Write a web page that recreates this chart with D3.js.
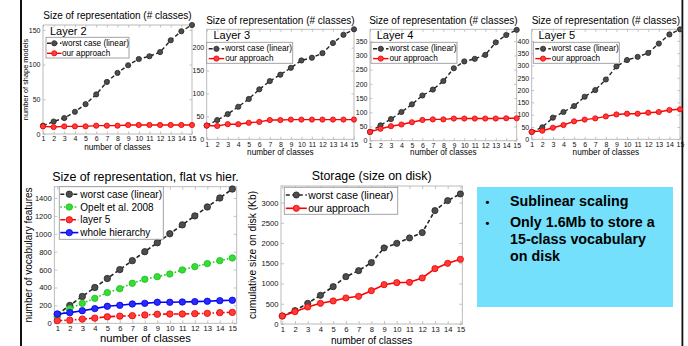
<!DOCTYPE html>
<html><head><meta charset="utf-8">
<script src="https://cdn.jsdelivr.net/npm/d3@7"></script>
<style>
body{margin:0;background:#fff;}
svg{display:block;font-family:"Liberation Sans",Arial,Helvetica,sans-serif;}
</style></head><body>
<svg id="chart" width="688" height="346"></svg>
<script>
// ---------- data ----------
const classes = [1,2,3,4,5,6,7,8,9,10,11,12,13,14,15];

const layer2Worst = [12,18,23,32,43,57,75,88,99,108,112,118,135,148,157];
const layer2Ours  = [11,10,11,11,11,12,12,12,13,13,13,13,13,13,13];
const layer2Ticks = [0,50,100,150];

const layer3Worst = [30,42,55,71,88,109,127,141,156,172,178,188,210,228,240];
const layer3Ours  = [30,29,33,33,36,38,42,42,43,43,43,43,43,43,43];
const layer3Ticks = [0,50,100,150,200];

const layer4Worst = [31,54,76,101,128,159,180,210,255,279,288,302,346,372,390];
const layer4Ours  = [31,42,51,57,65,73,75,75,78,78,78,78,78,79,79];
const layer4Ticks = [0,50,100,150,200,250,300,350];

const layer5Worst = [30,49,88,111,135,173,200,243,296,322,335,351,389,426,447];
const layer5Ours  = [30,35,47,58,73,80,85,93,101,104,104,108,111,119,122];
const layer5Ticks = [0,50,100,150,200,250,300,350,400];

const flatWorst  = [100,200,300,400,500,600,700,800,900,1000,1100,1200,1300,1400,1500];
const flatOpelt  = [74,164,223,279,343,387,447,492,521,551,596,633,667,700,730];
const flatLayer5 = [30,35,47,58,73,80,85,93,101,104,104,108,111,119,122];
const flatWhole  = [104,119,141,164,190,201,216,223,235,235,238,242,246,253,257];
const flatTicks  = [0,200,400,600,800,1000,1200,1400];

const diskWorst = [198,330,511,709,923,1170,1318,1516,1879,1994,2126,2258,2802,3049,3214];
const diskOurs  = [198,305,420,511,569,643,684,824,972,1022,1030,1137,1368,1500,1599];
const diskTicks = [0,500,1000,1500,2000,2500,3000];

const bullets = [["Sublinear scaling"],["Only 1.6Mb to store a","15-class vocabulary","on disk"]];

// ---------- styles ----------
const ST = {
  worst: {stroke:"#262626", dash:"4,2.5", fill:"#4d4d4d", ms:"#262626", label:"worst case (linear)"},
  ours:  {stroke:"#ff0000", dash:null, fill:"#ff3b3b", ms:"#e80000", label:"our approach"},
  opelt: {stroke:"#1ecc1e", dash:"1.6,2", fill:"#35dd35", ms:"#1ebb1e", label:"Opelt et al. 2008"},
  l5:    {stroke:"#ff0000", dash:"5,2,1.6,2", fill:"#ff3b3b", ms:"#e80000", label:"layer 5"},
  whole: {stroke:"#0000ff", dash:null, fill:"#2a2aff", ms:"#0000e0", label:"whole hierarchy"}
};

const svg = d3.select("#chart");
svg.append("rect").attr("width",688).attr("height",346).attr("fill","#fff");
svg.append("rect").attr("x",20).attr("y",0).attr("width",2).attr("height",346).attr("fill","#111");
svg.append("rect").attr("x",681.5).attr("y",0).attr("width",1.8).attr("height",346).attr("fill","#111");

function panel(o){
  const g = svg.append("g");
  const x = d3.scaleLinear().domain(o.xDomain).range([o.left,o.right]);
  const y = d3.scaleLinear().domain(o.yDomain).range([o.bottom,o.top]);
  g.append("rect").attr("x",o.left).attr("y",o.top).attr("width",o.right-o.left)
    .attr("height",o.bottom-o.top).attr("fill","#fff").attr("stroke","#b4b4b4").attr("stroke-width",0.9);
  const ts = o.tickLen;
  const ax = (a, tx, ty, labels) => {
    const gg = g.append("g").attr("transform",`translate(${tx},${ty})`).call(a);
    gg.select(".domain").remove();
    gg.selectAll(".tick line").attr("stroke","#b4b4b4").attr("stroke-width",0.8);
    gg.selectAll("text").attr("font-size",o.tickFont).attr("fill","#111").attr("font-family","inherit");
    if(!labels) gg.selectAll("text").remove();
    return gg;
  };
  ax(d3.axisBottom(x).tickValues(classes).tickFormat(d3.format("d")).tickSize(-ts).tickPadding(o.xPad),0,o.bottom,true);
  ax(d3.axisTop(x).tickValues(classes).tickSize(-ts),0,o.top,false);
  ax(d3.axisLeft(y).tickValues(o.yTicks).tickFormat(d3.format("d")).tickSize(-ts).tickPadding(o.yPad),o.left,0,true);
  ax(d3.axisRight(y).tickValues(o.yTicks).tickSize(-ts),o.right,0,false);

  // series
  o.series.forEach(s=>{
    const st = ST[s.style];
    const line = d3.line().x((d,i)=>x(classes[i])).y(d=>y(d));
    g.append("path").datum(s.values).attr("d",line).attr("fill","none")
      .attr("stroke",st.stroke).attr("stroke-width",o.lw).attr("stroke-dasharray",st.dash);
    g.selectAll(null).data(s.values).enter().append("circle")
      .attr("cx",(d,i)=>x(classes[i])).attr("cy",d=>y(d)).attr("r",o.mr)
      .attr("fill",st.fill).attr("stroke",st.ms).attr("stroke-width",0.8);
  });

  // title & labels
  g.append("text").attr("x",(o.left+o.right)/2).attr("y",o.titleY).attr("text-anchor","middle")
    .attr("font-size",o.titleFont).attr("fill","#000").text(o.title);
  g.append("text").attr("x",(o.left+o.right)/2).attr("y",o.xLabelY).attr("text-anchor","middle")
    .attr("font-size",o.xLabelFont).attr("fill","#000").text("number of classes");
  if(o.yLabel){
    g.append("text").attr("transform",`translate(${o.yLabelX},${(o.top+o.bottom)/2}) rotate(-90)`)
      .attr("text-anchor","middle").attr("dominant-baseline","central")
      .attr("font-size",o.yLabelFont).attr("fill","#000").text(o.yLabel);
  }
  if(o.layer){
    g.append("text").attr("x",o.left+o.layer.dx).attr("y",o.top+o.layer.dy)
      .attr("font-size",o.layer.size).attr("fill","#000").text(o.layer.text);
  }
  // legend
  const L = o.legend;
  const lg = g.append("g");
  lg.append("rect").attr("x",L.x).attr("y",L.y).attr("width",L.w).attr("height",L.h)
    .attr("fill","#fff").attr("stroke","#9a9a9a").attr("stroke-width",0.9);
  o.series.forEach((s,i)=>{
    const st = ST[s.style];
    const cy = L.y + L.first + i*L.step;
    lg.append("line").attr("x1",L.x+L.l1).attr("x2",L.x+L.l2).attr("y1",cy).attr("y2",cy)
      .attr("stroke",st.stroke).attr("stroke-width",o.lw).attr("stroke-dasharray",st.dash);
    lg.append("circle").attr("cx",L.x+(L.l1+L.l2)/2).attr("cy",cy).attr("r",o.mr)
      .attr("fill",st.fill).attr("stroke",st.ms).attr("stroke-width",0.8);
    lg.append("text").attr("x",L.x+L.tx).attr("y",cy).attr("dominant-baseline","central")
      .attr("font-size",L.font).attr("fill","#000").text(st.label);
  });
}

const topCommon = {xDomain:[1,15], tickLen:2.5, tickFont:7, xPad:2.5, yPad:2.5, lw:1.4, mr:2.6,
  titleFont:10, xLabelFont:8.2};

const topLegend = (left, top) => ({x:left+2, y:top+13, w:86, h:21, first:6.5, step:9.8, l1:2, l2:17.5, tx:18.5, font:8.2});

panel(Object.assign({}, topCommon, {left:43, right:192, top:25, bottom:134, yDomain:[0,157], yTicks:layer2Ticks,
  series:[{values:layer2Worst, style:"worst"},{values:layer2Ours, style:"ours"}],
  title:"Size of representation (# classes)", titleY:18.5, xLabelY:149.5,
  yLabel:"number of shape models", yLabelX:25.5, yLabelFont:7.4,
  layer:{text:"Layer 2", dx:7, dy:10.3, size:11}, legend:{x:46, y:37.3, w:83, h:20.7, first:6, step:10, l1:1, l2:15.5, tx:16, font:8.2}}));

panel(Object.assign({}, topCommon, {left:206.7, right:354, top:29.3, bottom:139.3, yDomain:[0,240], yTicks:layer3Ticks,
  series:[{values:layer3Worst, style:"worst"},{values:layer3Ours, style:"ours"}],
  title:"Size of representation (# classes)", titleY:23.5, xLabelY:155,
  layer:{text:"Layer 3", dx:6.7, dy:9.5, size:11}, legend:topLegend(204.7,29.3)}));

panel(Object.assign({}, topCommon, {left:370, right:516.7, top:29.3, bottom:140.7, yDomain:[0,392], yTicks:layer4Ticks,
  series:[{values:layer4Worst, style:"worst"},{values:layer4Ours, style:"ours"}],
  title:"Size of representation (# classes)", titleY:23.5, xLabelY:155,
  layer:{text:"Layer 4", dx:6.7, dy:9.5, size:11}, legend:topLegend(369,29.3)}));

panel(Object.assign({}, topCommon, {left:531.7, right:680, top:29.3, bottom:139.3, yDomain:[0,447], yTicks:layer5Ticks,
  series:[{values:layer5Worst, style:"worst"},{values:layer5Ours, style:"ours"}],
  title:"Size of representation (# classes)", titleY:23.5, xLabelY:155,
  layer:{text:"Layer 5", dx:6.7, dy:9.5, size:11}, legend:topLegend(531.3,29.3)}));

panel({left:54.3, right:236.7, top:186.7, bottom:323.3, xDomain:[0.76,15.35], yDomain:[0,1526], yTicks:flatTicks,
  tickLen:3, tickFont:7.6, xPad:2.6, yPad:2.5, lw:1.6, mr:3.2, titleFont:12.4, xLabelFont:11.2,
  series:[{values:flatWorst, style:"worst"},{values:flatOpelt, style:"opelt"},{values:flatLayer5, style:"l5"},{values:flatWhole, style:"whole"}],
  title:"Size of representation, flat vs hier.", titleY:181, xLabelY:342,
  yLabel:"number of vocabulary features", yLabelX:28.5, yLabelFont:10,
  legend:{x:59.3, y:186.7, w:104, h:52.6, first:7.5, step:12.8, l1:1, l2:19, tx:21, font:10}});

panel({left:281, right:462.3, top:186, bottom:324, xDomain:[0.9,15.15], yDomain:[0,3410], yTicks:diskTicks,
  tickLen:3, tickFont:7.6, xPad:2.6, yPad:2.5, lw:1.6, mr:3.1, titleFont:12.4, xLabelFont:10,
  series:[{values:diskWorst, style:"worst"},{values:diskOurs, style:"ours"}],
  title:"Storage (size on disk)", titleY:179.5, xLabelY:344,
  yLabel:"cumulative size on disk (Kb)", yLabelX:252.5, yLabelFont:10.3,
  legend:{x:284.3, y:187.3, w:113.4, h:27, first:7.7, step:13.3, l1:1.5, l2:22.5, tx:24, font:10.4}});

// text box
svg.append("rect").attr("x",477).attr("y",187).attr("width",196).attr("height",120).attr("fill","#74e0fb");
const tb = svg.append("g").attr("font-weight","bold").attr("font-size",14.3).attr("fill","#000");
let yy = 205.7;
bullets.forEach((b,bi)=>{
  if(bi>0) yy += 21;
  tb.append("text").attr("x",485.5).attr("y",yy).attr("font-size",11).text("•");
  b.forEach((line,li)=>{
    tb.append("text").attr("x",510).attr("y",yy + li*17.3).text(line);
  });
});
</script>
</body></html>
